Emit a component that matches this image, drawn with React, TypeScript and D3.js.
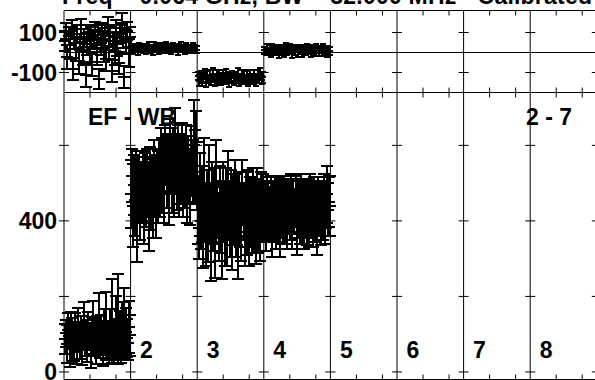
import React from "react";
import * as d3 from "d3";

const TITLE = "Freq = 0.064 GHz,  BW = 32.000 MHz  -  Calibrated";
const SEG_LABELS = ["2", "3", "4", "5", "6", "7", "8"];
const TOP_TICKS = [100, -100];
const TOP_TICK_LABELS = ["100", "-100"];
const BOT_TICKS = [0, 200, 400, 600];
const BOT_TICK_LABELS = [["400", 400], ["0", 0]] as const;
const SEG_LEN = 2.56;
const N_SEG = 8;
const SEG_MINOR = [1, 2];

// top panel series
const TOP1 = [60, 110, -20, 85, 40, 130, -80, 70, 20, 95, -40, 55, 120, 10, 75, -110, 45, 100, 30, 80, -60, 65, 115, 5, 90, -130, 50, 105, 25, 70, -30, 140, 35, 85, -90, 60, 10, 125, 45, -50, 95, 150, 75, -120, 55, 110, 0, 80];
const TOP1E = [50, 40, 60, 45, 70, 35, 55, 50, 60, 45, 65, 40, 50, 70, 45, 60, 55, 40, 75, 50, 55, 45, 40, 65, 50, 50, 60, 45, 70, 55, 60, 40, 65, 50, 55, 45, 70, 40, 60, 55, 45, 50, 50, 55, 60, 45, 70, 50];
const TOP2 = [22, 12, 32, 18, 28, 8, 35, 20, 26, 14, 30, 10, 24, 36, 16, 28, 6, 38, 22, 15, 33, 9, 27, 19, 31, 13, 40, 24, 17, 29, 11, 34, 21, 16, 30, 7, 26, 37, 18, 25, 12, 33, 20, 28, 23, 10, 31, 17, 25, 14];
const TOP2E = [14, 17, 12, 16, 13, 18, 14, 15, 12, 17, 14, 16, 13, 15, 18, 12, 16, 14, 17, 13, 15, 18, 14, 12, 16, 13, 15, 17, 14, 12, 16, 14, 18, 13, 15, 17, 12, 14, 16, 13, 18, 14, 15, 12, 17, 13, 16, 14, 15, 17];
const TOP3 = [-118, -140, -108, -146, -125, -102, -152, -120, -135, -112, -142, -105, -128, -148, -115, -138, -110, -145, -124, -116, -140, -104, -132, -150, -119, -127, -109, -143, -122, -136, -106, -149, -130, -114, -141, -111, -134, -121, -147, -107, -131, -139, -117, -126, -144, -113, -129, -103, -137, -123];
const TOP3E = [20, 26, 17, 23, 28, 19, 21, 30, 18, 24, 22, 26, 20, 17, 28, 21, 25, 19, 23, 29, 18, 22, 27, 20, 24, 26, 19, 21, 25, 17, 30, 20, 23, 28, 18, 24, 21, 27, 19, 22, 25, 20, 29, 18, 23, 26, 21, 24, 19, 27];
const TOP4 = [12, 0, 24, 6, 18, -6, 28, 10, 2, 20, 14, -2, 26, 8, 19, -8, 30, 12, 4, 22, 16, -4, 25, 7, 17, 1, 23, 11, -5, 21, 13, 3, 27, 9, 18, -7, 22, 14, -1, 24, 15, 5, 19, 2, 26, 10, 20, -3, 16, 8];
const TOP4E = [18, 14, 20, 16, 22, 15, 17, 21, 13, 19, 16, 24, 14, 18, 20, 15, 17, 22, 13, 19, 16, 21, 15, 18, 14, 23, 17, 20, 15, 19, 22, 14, 16, 18, 21, 13, 17, 20, 15, 19, 16, 22, 14, 18, 17, 20, 15, 21, 16, 19];

// bottom panel series
const BOT1 = [88, 102, 75, 110, 95, 68, 120, 84, 97, 73, 105, 90, 62, 115, 99, 81, 108, 70, 93, 125, 86, 100, 77, 112, 91, 66, 104, 118, 83, 96, 72, 109, 89, 130, 78, 101, 94, 65, 113, 87, 122, 80, 98, 71, 106, 92, 135, 85, 74, 117, 99, 140, 82, 103, 69, 111, 95, 128, 79, 107, 90, 76, 119, 97];
const BOT1E = [40, 35, 50, 45, 30, 55, 40, 60, 35, 45, 50, 38, 42, 55, 33, 48, 40, 52, 36, 60, 44, 38, 50, 46, 34, 56, 42, 70, 40, 48, 52, 38, 45, 80, 42, 50, 36, 48, 55, 40, 90, 44, 38, 50, 60, 42, 110, 46, 52, 85, 40, 120, 48, 58, 44, 75, 40, 95, 46, 62, 50, 44, 70, 55];
const BOT2 = [470, 520, 440, 495, 455, 510, 420, 485, 500, 450, 475, 520, 445, 490, 460, 505, 480, 435, 515, 470, 495, 455, 530, 480, 465, 510, 490, 540, 500, 560, 520, 545, 505, 575, 530, 555, 510, 585, 540, 520, 565, 500, 590, 545, 525, 570, 510, 560, 535, 580, 515, 550, 530, 570, 505, 545, 520, 490, 560, 530, 600, 545, 580, 520];
const BOT2E = [90, 70, 110, 80, 95, 75, 130, 85, 70, 100, 80, 65, 105, 90, 75, 85, 70, 115, 80, 95, 75, 100, 85, 70, 110, 80, 95, 75, 90, 85, 100, 70, 110, 80, 95, 75, 120, 85, 70, 100, 80, 90, 110, 75, 95, 85, 100, 70, 90, 80, 105, 75, 95, 85, 110, 80, 70, 100, 90, 85, 120, 95, 110, 90];
const BOT3 = [430, 380, 470, 400, 445, 360, 490, 415, 375, 455, 395, 480, 420, 350, 465, 405, 440, 370, 500, 425, 385, 460, 410, 345, 475, 430, 390, 450, 365, 485, 420, 400, 455, 375, 440, 410, 470, 385, 430, 355, 460, 415, 395, 480, 425, 370, 445, 405, 465, 380, 435, 420, 390, 455, 410, 440, 375, 460, 400, 430, 385, 450, 415, 440];
const BOT3E = [90, 80, 110, 75, 100, 85, 130, 70, 95, 80, 105, 120, 75, 110, 90, 85, 100, 120, 115, 70, 90, 85, 95, 100, 80, 75, 110, 90, 85, 100, 70, 95, 80, 105, 85, 75, 90, 80, 95, 110, 70, 85, 100, 80, 75, 90, 85, 95, 70, 100, 80, 90, 75, 85, 95, 70, 90, 80, 85, 75, 90, 80, 70, 85];
const BOT4 = [420, 445, 400, 460, 430, 410, 450, 395, 440, 425, 465, 405, 435, 415, 455, 390, 445, 430, 410, 460, 420, 440, 400, 450, 435, 415, 470, 405, 440, 425, 455, 395, 430, 445, 410, 460, 420, 435, 400, 450, 430, 415, 445, 405, 465, 425, 440, 410, 455, 420, 435, 400, 450, 430, 415, 445, 425, 460, 410, 440, 470, 430, 450, 440];
const BOT4E = [70, 60, 80, 55, 75, 65, 70, 90, 60, 75, 55, 80, 65, 70, 60, 85, 65, 75, 70, 60, 80, 65, 75, 60, 70, 65, 55, 80, 70, 60, 65, 85, 75, 60, 70, 65, 80, 70, 75, 60, 70, 80, 65, 75, 60, 70, 65, 80, 60, 75, 70, 90, 65, 70, 80, 60, 75, 65, 70, 60, 75, 70, 65, 80];

const W = 595;
const H = 380;
const FONT = "'Liberation Sans', Arial, Helvetica, sans-serif";

const x = d3.scaleLinear().domain([0, N_SEG * SEG_LEN]).range([64, 596.8]);
const yTop = d3.scaleLinear().domain([-200, 210]).range([92.5, 10.5]);
const yBot = d3.scaleLinear().domain([-20, 740]).range([379.5, 92.5]);

function errPath(
  seg: number,
  vals: number[],
  errs: number[],
  y: d3.ScaleLinear<number, number>,
  cap: number,
  mk: number
) {
  const p = d3.path();
  const n = vals.length;
  vals.forEach((v, i) => {
    const cx = x(seg * SEG_LEN + ((i + 0.5) / n) * SEG_LEN);
    const cy = y(v);
    const y1 = y(v + errs[i]);
    const y2 = y(v - errs[i]);
    p.moveTo(cx, y1);
    p.lineTo(cx, y2);
    p.moveTo(cx - cap, y1);
    p.lineTo(cx + cap, y1);
    p.moveTo(cx - cap, y2);
    p.lineTo(cx + cap, y2);
    p.moveTo(cx - mk, cy);
    p.lineTo(cx + mk, cy);
    p.moveTo(cx, cy - mk);
    p.lineTo(cx, cy + mk);
  });
  return p.toString();
}

export default function App() {
  const segs = d3.range(N_SEG + 1);
  const frame = d3.path();
  [10.5, 92.5, 379.5].forEach((yy) => {
    frame.moveTo(64, yy);
    frame.lineTo(598, yy);
  });
  segs.forEach((s) => {
    const xx = x(s * SEG_LEN);
    frame.moveTo(xx, 10.5);
    frame.lineTo(xx, 379.5);
  });
  frame.moveTo(64, yTop(0));
  frame.lineTo(598, yTop(0));

  const ticks = d3.path();
  d3.range(N_SEG).forEach((s) => {
    SEG_MINOR.forEach((m) => {
      const xx = x(s * SEG_LEN + m);
      ticks.moveTo(xx, 10.5);
      ticks.lineTo(xx, 15.5);
      ticks.moveTo(xx, 87.5);
      ticks.lineTo(xx, 97.5);
      ticks.moveTo(xx, 379.5);
      ticks.lineTo(xx, 374.5);
    });
  });
  segs.forEach((s) => {
    const xx = x(s * SEG_LEN);
    TOP_TICKS.forEach((t) => {
      ticks.moveTo(xx - 5, yTop(t));
      ticks.lineTo(xx + 5, yTop(t));
    });
    BOT_TICKS.forEach((t) => {
      ticks.moveTo(xx - 5, yBot(t));
      ticks.lineTo(xx + 5, yBot(t));
    });
  });

  const series: [number, number[], number[], d3.ScaleLinear<number, number>, number, number][] = [
    [0, TOP1, TOP1E, yTop, 6, 6],
    [1, TOP2, TOP2E, yTop, 3, 3],
    [2, TOP3, TOP3E, yTop, 3, 3],
    [3, TOP4, TOP4E, yTop, 3, 3],
    [0, BOT1, BOT1E, yBot, 6, 6],
    [1, BOT2, BOT2E, yBot, 6, 6],
    [2, BOT3, BOT3E, yBot, 6, 6],
    [3, BOT4, BOT4E, yBot, 6, 6],
  ];

  const txt = { fontFamily: FONT, fontWeight: 700, fontSize: 23, fill: "#000" } as const;

  return (
    <svg
      width={W}
      height={H}
      viewBox={`0 0 ${W} ${H}`}
      style={{ position: "fixed", left: 0, top: 0, display: "block", background: "#fff" }}
    >
      <rect x={0} y={0} width={W} height={H} fill="#fff" />
      <path d={frame.toString()} stroke="#000" strokeWidth={1} fill="none" />
      <path d={ticks.toString()} stroke="#000" strokeWidth={1} fill="none" />
      {series.map(([s, v, e, y, c, m], i) => (
        <path
          key={i}
          d={errPath(s, v, e, y, c, m)}
          stroke="#000"
          strokeWidth={2}
          shapeRendering="crispEdges"
          fill="none"
        />
      ))}
      <text x={62} y={3.5} {...txt} textLength={530} lengthAdjust="spacing">
        {TITLE}
      </text>
      {TOP_TICKS.map((t, i) => (
        <text key={t} x={57} y={yTop(t) + 8} textAnchor="end" {...txt}>
          {TOP_TICK_LABELS[i]}
        </text>
      ))}
      {BOT_TICK_LABELS.map(([lab, t]) => (
        <text key={lab} x={57} y={yBot(t) + 8} textAnchor="end" {...txt}>
          {lab}
        </text>
      ))}
      <text x={88} y={125} {...txt}>EF - WB</text>
      <text x={526} y={125} {...txt}>2 - 7</text>
      {SEG_LABELS.map((lab, i) => (
        <text key={lab} x={x((i + 1) * SEG_LEN) + 9.5} y={358} {...txt}>
          {lab}
        </text>
      ))}
    </svg>
  );
}
